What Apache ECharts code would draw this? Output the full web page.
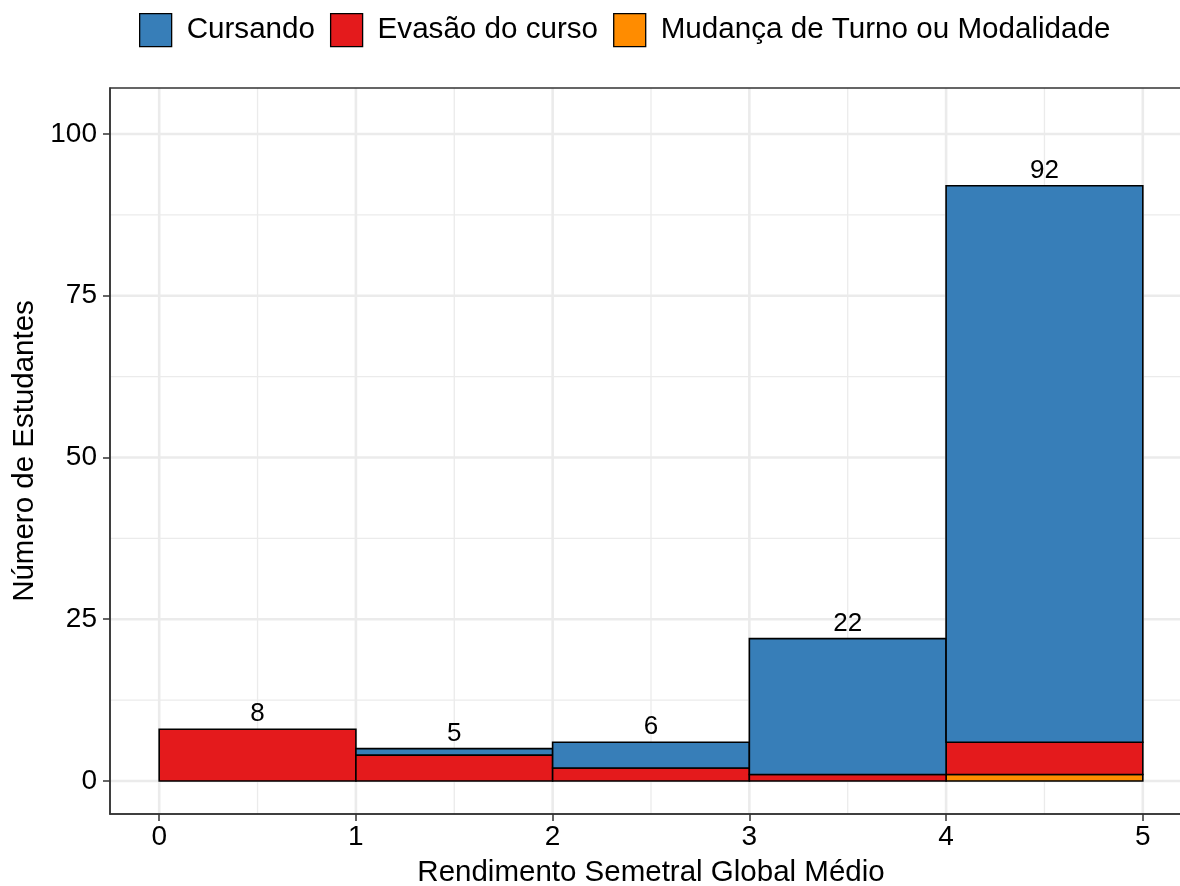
<!DOCTYPE html>
<html><head><meta charset="utf-8">
<script src="https://cdn.jsdelivr.net/npm/echarts@6/dist/echarts.min.js"></script>
<style>html,body{margin:0;padding:0;background:#fff}#chart{width:1180px;height:886px}</style>
</head><body><div id="chart"></div>
<script>
// ---- data ----
const binStart = [0, 1, 2, 3, 4];
const binEnd = [1, 2, 3, 4, 5];
const seriesNames = ['Cursando', 'Evasão do curso', 'Mudança de Turno ou Modalidade'];
const cursando = [0, 1, 4, 21, 86];
const evasao = [8, 4, 2, 1, 5];
const mudanca = [0, 0, 0, 0, 1];
const xTicks = [0, 1, 2, 3, 4, 5];
const yTicks = [0, 25, 50, 75, 100];
const xMinor = [0.5, 1.5, 2.5, 3.5, 4.5];
const yMinor = [12.5, 37.5, 62.5, 87.5];
const xTitle = 'Rendimento Semetral Global Médio';
const yTitle = 'Número de Estudantes';

// ---- styles ----
const FONT = 'Liberation Sans, Arial, Helvetica, sans-serif';
const colors = ['#377EB8', '#E41A1C', '#FF8C00'];
const GRID_COLOR = '#EBEBEB';

// stacking order bottom -> top: Mudança, Evasão, Cursando
const stackOrder = [mudanca, evasao, cursando];
const stackNames = [seriesNames[2], seriesNames[1], seriesNames[0]];
const stackColors = [colors[2], colors[1], colors[0]];
const base = binStart.map(() => 0);
const barSeries = stackOrder.map((vals, si) => {
  const data = [];
  vals.forEach((v, i) => {
    if (v > 0) data.push([binStart[i], binEnd[i], base[i], base[i] + v]);
    base[i] += v;
  });
  return {
    type: 'custom', name: stackNames[si], z: 3,
    itemStyle: { color: stackColors[si], borderColor: '#000', borderWidth: 1.6 },
    encode: { x: [0, 1], y: [2, 3] },
    data: data,
    renderItem: function (params, api) {
      const p0 = api.coord([api.value(0), api.value(2)]);
      const p1 = api.coord([api.value(1), api.value(3)]);
      return {
        type: 'rect',
        shape: { x: p0[0], y: p1[1], width: p1[0] - p0[0], height: p0[1] - p1[1] },
        style: { fill: api.visual('color'), stroke: '#000', lineWidth: 1.6 }
      };
    }
  };
});
const totals = base.slice();
const labelData = binStart.map((s, i) => [(s + binEnd[i]) / 2, totals[i]]);

function gridSeries(vals, vertical, width) {
  return {
    type: 'custom', silent: true, z: 1, legendHoverLink: false,
    data: vals.map(v => [v]),
    encode: vertical ? { x: 0 } : { y: 0 },
    renderItem: function (params, api) {
      const cs = params.coordSys;
      const v = api.value(0);
      if (vertical) {
        const p = api.coord([v, 0]);
        return { type: 'line', shape: { x1: p[0], y1: cs.y, x2: p[0], y2: cs.y + cs.height }, style: { stroke: GRID_COLOR, lineWidth: width } };
      } else {
        const p = api.coord([0, v]);
        return { type: 'line', shape: { x1: cs.x, y1: p[1], x2: cs.x + cs.width, y2: p[1] }, style: { stroke: GRID_COLOR, lineWidth: width } };
      }
    }
  };
}

const labelSeries = {
  type: 'custom', silent: true, z: 4,
  data: labelData,
  encode: { x: 0, y: 1 },
  renderItem: function (params, api) {
    const p = api.coord([api.value(0), api.value(1)]);
    return {
      type: 'text', x: p[0], y: p[1] - 15,
      style: { text: String(api.value(1)), fill: '#000', fontSize: 26, fontFamily: FONT, align: 'center', verticalAlign: 'middle' }
    };
  }
};

const chart = echarts.init(document.getElementById('chart'), null, { renderer: 'canvas' });
chart.setOption({
  animation: false,
  backgroundColor: '#fff',
  textStyle: { fontFamily: FONT },
  legend: {
    left: 139, top: 13, padding: 0, itemWidth: 32, itemHeight: 33, itemGap: 15,
    icon: 'rect',
    data: seriesNames,
    itemStyle: { borderColor: '#000', borderWidth: 1.3 },
    textStyle: { fontSize: 29.6, fontFamily: FONT, color: '#000', padding: [0, 0, 0, 10] },
    selectedMode: false
  },
  grid: {
    left: 110, top: 88, width: 1082, height: 726,
    show: true, borderColor: '#333', borderWidth: 1.5, backgroundColor: 'transparent',
    containLabel: false, outerBoundsMode: 'none', z: 5
  },
  xAxis: {
    type: 'value', min: -0.25, max: 5.25, z: 5,
    axisLine: { show: true, onZero: false, lineStyle: { color: '#333', width: 1.5 } },
    axisTick: { show: true, length: 7, lineStyle: { color: '#333', width: 1.5 }, customValues: xTicks },
    axisLabel: { customValues: xTicks, fontSize: 28, color: '#000', margin: 9, fontFamily: FONT },
    splitLine: { show: false },
    name: xTitle, nameLocation: 'middle', nameGap: 44,
    nameTextStyle: { fontSize: 29.5, color: '#000', fontFamily: FONT }
  },
  yAxis: {
    type: 'value', min: -5.1, max: 107.1, z: 5,
    axisLine: { show: true, onZero: false, lineStyle: { color: '#333', width: 1.5 } },
    axisTick: { show: true, length: 7, lineStyle: { color: '#333', width: 1.5 }, customValues: yTicks },
    axisLabel: { customValues: yTicks, fontSize: 28, color: '#000', margin: 13, fontFamily: FONT },
    splitLine: { show: false },
    name: yTitle, nameLocation: 'middle', nameGap: 62,
    nameTextStyle: { fontSize: 29.5, color: '#000', fontFamily: FONT }
  },
  series: [
    gridSeries(yMinor, false, 1.3),
    gridSeries(xMinor, true, 1.3),
    gridSeries(yTicks, false, 2.6),
    gridSeries(xTicks, true, 2.6),
    ...barSeries,
    labelSeries
  ]
});
</script>
</body></html>
